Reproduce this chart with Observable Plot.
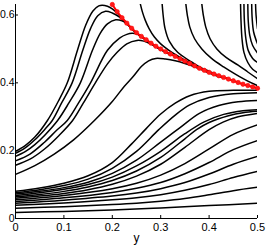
<!DOCTYPE html>
<html><head><meta charset="utf-8">
<script src="https://cdn.jsdelivr.net/npm/d3@7"></script>
<script src="https://cdn.jsdelivr.net/npm/@observablehq/plot@0.6"></script>
<style>
html,body{margin:0;padding:0;background:#fff;}
svg{display:block;}
</style>
</head><body>
<div id="chart"></div>
<script>
const xTicks = [0, 0.1, 0.2, 0.3, 0.4, 0.5];
const xTickLabels = ["0", "0.1", "0.2", "0.3", "0.4", "0.5"];
const yTicks = [0, 0.2, 0.4, 0.6];
const yTickLabels = ["0", "0.2", "0.4", "0.6"];
const xAxisLabel = "y";

// red curve (with markers)
const manifoldX = [0.20,0.21,0.22,0.23,0.24,0.25,0.26,0.27,0.28,0.29,0.30,0.31,0.32,0.33,0.34,0.35,0.36,0.37,0.38,0.39,0.40,0.41,0.42,0.43,0.44,0.45,0.46,0.47,0.48,0.49,0.50];
const manifoldY = [0.631,0.610,0.592,0.576,0.561,0.548,0.537,0.527,0.517,0.508,0.500,0.492,0.485,0.478,0.471,0.464,0.457,0.450,0.443,0.437,0.431,0.426,0.421,0.416,0.411,0.406,0.401,0.396,0.392,0.388,0.384];

// curves rising from the left, peaking, then joining the red curve
const peakedCurves = [
  [[0,0.198],[0.02,0.215],[0.04,0.240],[0.066,0.289],[0.09,0.350],[0.107,0.400],[0.128,0.496],[0.145,0.570],[0.16,0.612],[0.172,0.627],[0.179,0.629],[0.19,0.626],[0.20,0.618],[0.21,0.606],[0.22,0.591],[0.24,0.560]],
  [[0,0.192],[0.02,0.208],[0.04,0.232],[0.06,0.262],[0.076,0.289],[0.095,0.340],[0.117,0.400],[0.139,0.496],[0.155,0.560],[0.17,0.598],[0.186,0.611],[0.20,0.606],[0.215,0.594],[0.23,0.575],[0.25,0.547]],
  [[0,0.183],[0.02,0.197],[0.04,0.218],[0.06,0.245],[0.087,0.289],[0.11,0.340],[0.134,0.400],[0.159,0.496],[0.175,0.546],[0.19,0.574],[0.207,0.586],[0.22,0.583],[0.23,0.574],[0.24,0.559],[0.25,0.546],[0.27,0.525]],
  [[0,0.170],[0.03,0.190],[0.06,0.225],[0.085,0.260],[0.107,0.289],[0.13,0.340],[0.155,0.400],[0.19,0.496],[0.215,0.532],[0.23,0.543],[0.241,0.546],[0.255,0.542],[0.27,0.527],[0.28,0.516],[0.30,0.498],[0.32,0.483]],
  [[0,0.157],[0.03,0.175],[0.06,0.205],[0.09,0.245],[0.118,0.289],[0.14,0.340],[0.165,0.400],[0.19,0.456],[0.21,0.490],[0.23,0.515],[0.251,0.525],[0.265,0.523],[0.28,0.514],[0.29,0.506],[0.30,0.498],[0.32,0.483]],
  [[0,0.130],[0.04,0.156],[0.08,0.190],[0.12,0.232],[0.163,0.289],[0.20,0.345],[0.225,0.390],[0.244,0.420],[0.26,0.448],[0.275,0.465],[0.29,0.472],[0.31,0.470],[0.33,0.465],[0.35,0.457],[0.37,0.447],[0.39,0.435],[0.41,0.424],[0.43,0.414]]
];

// curves falling from the top edge toward the red curve
const fallingCurves = [
  [[0.258,0.632],[0.262,0.610],[0.268,0.585],[0.276,0.560],[0.287,0.535],[0.30,0.515],[0.315,0.498],[0.33,0.484],[0.35,0.467],[0.37,0.452]],
  [[0.303,0.632],[0.305,0.600],[0.309,0.560],[0.318,0.522],[0.335,0.490],[0.36,0.465],[0.38,0.447],[0.40,0.434],[0.42,0.422],[0.44,0.412]],
  [[0.352,0.632],[0.355,0.600],[0.36,0.565],[0.37,0.530],[0.385,0.500],[0.405,0.472],[0.43,0.447],[0.455,0.425],[0.48,0.405],[0.50,0.392]],
  [[0.385,0.632],[0.388,0.600],[0.393,0.565],[0.402,0.530],[0.416,0.500],[0.435,0.475],[0.46,0.452],[0.48,0.432],[0.50,0.412]],
  [[0.465,0.632],[0.466,0.580],[0.468,0.530],[0.472,0.490],[0.48,0.460],[0.49,0.440],[0.50,0.430]],
  [[0.472,0.632],[0.473,0.580],[0.476,0.530],[0.481,0.495],[0.49,0.472],[0.50,0.460]],
  [[0.480,0.632],[0.481,0.580],[0.484,0.540],[0.49,0.510],[0.50,0.488]],
  [[0.488,0.632],[0.489,0.590],[0.492,0.550],[0.50,0.515]],
  [[0.496,0.632],[0.497,0.600],[0.50,0.560]]
];

// lower family starting near zero
const risingCurves = [
  [[0,0.080],[0.05,0.090],[0.10,0.104],[0.15,0.126],[0.20,0.165],[0.24,0.220],[0.27,0.265],[0.30,0.308],[0.33,0.340],[0.36,0.362],[0.40,0.375],[0.45,0.378],[0.50,0.378]],
  [[0,0.076],[0.05,0.085],[0.10,0.097],[0.15,0.116],[0.20,0.148],[0.25,0.198],[0.296,0.262],[0.33,0.305],[0.36,0.335],[0.40,0.357],[0.45,0.368],[0.50,0.371]],
  [[0,0.072],[0.05,0.080],[0.10,0.091],[0.15,0.107],[0.20,0.133],[0.25,0.172],[0.30,0.225],[0.34,0.268],[0.38,0.310],[0.42,0.333],[0.46,0.344],[0.50,0.348]],
  [[0,0.068],[0.05,0.076],[0.10,0.086],[0.15,0.100],[0.20,0.122],[0.25,0.155],[0.30,0.198],[0.35,0.250],[0.39,0.285],[0.43,0.307],[0.47,0.318],[0.50,0.321]],
  [[0,0.064],[0.05,0.071],[0.10,0.080],[0.15,0.093],[0.20,0.112],[0.25,0.140],[0.30,0.180],[0.35,0.235],[0.374,0.262],[0.40,0.283],[0.44,0.303],[0.47,0.312],[0.50,0.316]],
  [[0,0.060],[0.05,0.066],[0.10,0.074],[0.15,0.085],[0.20,0.101],[0.25,0.125],[0.30,0.160],[0.35,0.210],[0.40,0.262],[0.43,0.285],[0.46,0.300],[0.50,0.310]],
  [[0,0.055],[0.10,0.068],[0.20,0.088],[0.25,0.104],[0.30,0.128],[0.35,0.162],[0.40,0.205],[0.45,0.248],[0.50,0.276]],
  [[0,0.050],[0.10,0.061],[0.20,0.077],[0.25,0.089],[0.30,0.106],[0.35,0.132],[0.40,0.165],[0.45,0.203],[0.50,0.230]],
  [[0,0.045],[0.10,0.054],[0.20,0.066],[0.25,0.075],[0.30,0.088],[0.35,0.106],[0.40,0.131],[0.45,0.160],[0.50,0.183]],
  [[0,0.039],[0.10,0.046],[0.20,0.055],[0.25,0.061],[0.30,0.070],[0.35,0.083],[0.40,0.100],[0.45,0.121],[0.50,0.139]],
  [[0,0.030],[0.10,0.035],[0.20,0.041],[0.25,0.045],[0.30,0.051],[0.35,0.059],[0.40,0.070],[0.45,0.082],[0.50,0.092]],
  [[0,0.018],[0.10,0.021],[0.20,0.025],[0.30,0.031],[0.40,0.038],[0.50,0.045]]
];

const blackRows = [...peakedCurves, ...fallingCurves, ...risingCurves]
  .flatMap((pts, i) => pts.map(([x, y]) => ({x, y, id: i})));
const redRows = manifoldX.map((x, i) => ({x, y: manifoldY[i]}));

const FONT = "'Liberation Sans Narrow', 'Liberation Sans', Arial, sans-serif";

const chart = Plot.plot({
  width: 266,
  height: 249,
  marginLeft: 15,
  marginRight: 9,
  marginTop: 4,
  marginBottom: 31,
  style: {fontFamily: FONT, fontSize: "11px", background: "#fff", color: "#000"},
  x: {domain: [0, 0.5]},
  y: {domain: [0, 0.631]},
  marks: [
    Plot.line(blackRows, {x: "x", y: "y", z: "id", stroke: "#000", strokeWidth: 1.5, curve: "catmull-rom", clip: true}),
    Plot.line(redRows, {x: "x", y: "y", stroke: "#ff0000", strokeWidth: 2, curve: "catmull-rom", clip: true}),
    Plot.dot(redRows, {x: "x", y: "y", r: 2.2, fill: "#ff1a1a", stroke: "#ff0000", strokeWidth: 0.6}),
    Plot.ruleX([0], {stroke: "#000", strokeWidth: 1}),
    Plot.ruleY([0], {stroke: "#000", strokeWidth: 1}),
    Plot.axisY({ticks: yTicks, tickFormat: (d) => yTickLabels[yTicks.indexOf(d)], tickSize: -3, tickPadding: 4, label: null, fontSize: 10.5}),
    Plot.axisX({ticks: xTicks, tickFormat: (d) => xTickLabels[xTicks.indexOf(d)], tickSize: -3, tickPadding: 8, label: null, fontSize: 11}),
    Plot.text([xAxisLabel], {frameAnchor: "bottom", dy: 23, fontSize: 12, fill: "#000"})
  ]
});

document.getElementById("chart").appendChild(chart);
</script>
</body></html>
